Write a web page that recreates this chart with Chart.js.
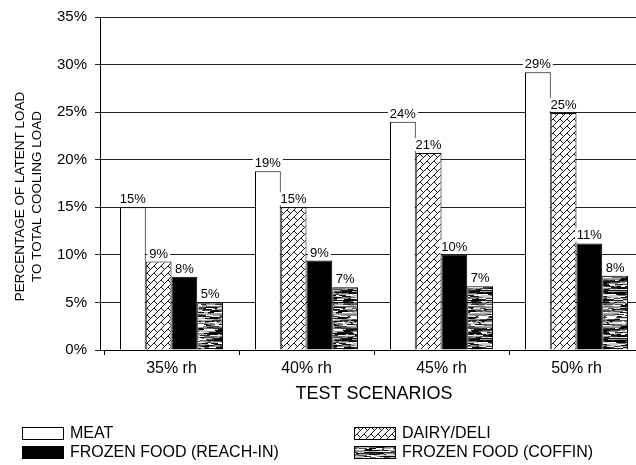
<!DOCTYPE html>
<html>
<head>
<meta charset="utf-8">
<style>
  html, body { margin: 0; padding: 0; background: #fff; overflow: hidden; width: 636px; height: 465px; }
  canvas { display: block; }
</style>
<script src="https://cdn.jsdelivr.net/npm/chart.js@4.4.1/dist/chart.umd.min.js"></script>
</head>
<body>
<canvas id="chart" width="644" height="465"></canvas>
<script>
// Test scenarios (relative humidity) and latent-load share per display case type, in %
const categories = ['35% rh', '40% rh', '45% rh', '50% rh'];
const meat = [15.0, 18.8, 24.0, 29.2];
const dairyDeli = [9.3, 15.0, 20.7, 24.9];
const frozenReachIn = [7.7, 9.4, 10.0, 11.2];
const frozenCoffin = [5.0, 6.6, 6.7, 7.8];
const seriesNames = ['MEAT', 'DAIRY/DELI', 'FROZEN FOOD (REACH-IN)', 'FROZEN FOOD (COFFIN)'];
const yTickValues = [0, 5, 10, 15, 20, 25, 30, 35];
const yTitleLines = ['PERCENTAGE OF LATENT LOAD', 'TO TOTAL COOLING LOAD'];

const FONT = '"Liberation Sans", Arial, Helvetica, sans-serif';

// Diagonal brick hatch used for the dairy/deli bars
function makeHatch() {
  const T = 14, s = 7;
  const c = document.createElement('canvas');
  c.width = c.height = T;
  const g = c.getContext('2d');
  g.fillStyle = '#fff';
  g.fillRect(0, 0, T, T);
  g.strokeStyle = '#000';
  g.lineWidth = 0.9;
  g.beginPath();
  for (let k = -4; k <= 8; k++) {
    const cc = k * s;
    g.moveTo(cc + T, -T);
    g.lineTo(cc - 2 * T, 2 * T);
    const par = ((k % 2) + 2) % 2;
    for (let m = -4; m <= 4; m++) {
      const d = m * T + par * s;
      g.moveTo((cc + d) / 2, (cc - d) / 2);
      g.lineTo((cc + s + d) / 2, (cc + s - d) / 2);
    }
  }
  g.stroke();
  return g.createPattern(c, 'repeat');
}

// Streaky grey texture used for the coffin-case bars (seeded, so it draws the same every time)
function makeStreaks() {
  const W = 64, H = 48;
  const c = document.createElement('canvas');
  c.width = W; c.height = H;
  const g = c.getContext('2d');
  let seed = 987654;
  const next = () => { seed = (seed * 1103515245 + 12345) & 0x7fffffff; return seed / 0x7fffffff; };
  const tones = [0, 0, 20, 50, 80, 110, 140, 170, 200, 230, 255, 255];
  g.fillStyle = '#000';
  g.fillRect(0, 0, W, H);
  for (let y = 0; y < H; y++) {
    let x = 0;
    while (x < W) {
      const len = 2 + Math.floor(next() * 9);
      const t = tones[Math.floor(next() * tones.length)];
      g.fillStyle = `rgb(${t},${t},${t})`;
      g.fillRect(x, y, Math.min(len, W - x), 1);
      x += len;
    }
  }
  return g.createPattern(c, 'repeat');
}

const ctx = document.getElementById('chart').getContext('2d');
const fills = ['#ffffff', makeHatch(), '#000000', makeStreaks()];

// The value axis line sits a few pixels left of the first category
const AXIS_GAP = 4;

const axisLinePlugin = {
  id: 'axisLine',
  beforeDatasetsDraw(chart) {
    const { ctx, chartArea } = chart;
    const x = Math.round(chartArea.left - AXIS_GAP) + 0.5;
    ctx.save();
    ctx.strokeStyle = '#000';
    ctx.lineWidth = 1;
    ctx.beginPath();
    ctx.moveTo(x, chart.scales.y.getPixelForValue(35));
    ctx.lineTo(x, chart.scales.y.getPixelForValue(0) + 1);
    ctx.stroke();
    ctx.restore();
  }
};

// Two-line rotated title for the value axis
const yTitlePlugin = {
  id: 'yTitle',
  afterDraw(chart) {
    const { ctx, chartArea } = chart;
    const cy = (chartArea.top + chartArea.bottom) / 2 + 13;
    ctx.save();
    ctx.font = '13.5px ' + FONT;
    ctx.fillStyle = '#000';
    ctx.textAlign = 'center';
    ctx.textBaseline = 'middle';
    yTitleLines.forEach((line, i) => {
      ctx.save();
      ctx.translate(20 + i * 17, cy);
      ctx.rotate(-Math.PI / 2);
      ctx.fillText(line, 0, 0);
      ctx.restore();
    });
    ctx.restore();
  }
};

const valueLabelPlugin = {
  id: 'valueLabels',
  afterDatasetsDraw(chart) {
    const { ctx } = chart;
    ctx.save();
    ctx.font = '13px ' + FONT;
    ctx.textAlign = 'center';
    ctx.textBaseline = 'alphabetic';
    chart.data.datasets.forEach((ds, di) => {
      const meta = chart.getDatasetMeta(di);
      meta.data.forEach((bar, i) => {
        const text = Math.round(ds.data[i]) + '%';
        const w = ctx.measureText(text).width;
        const baseY = bar.y - 4;
        ctx.fillStyle = '#fff';
        ctx.fillRect(bar.x - w / 2 - 2, baseY - 11, w + 4, 13);
        ctx.fillStyle = '#000';
        ctx.fillText(text, bar.x, baseY);
      });
    });
    ctx.restore();
  }
};

const legendPlugin = {
  id: 'columnLegend',
  afterDraw(chart) {
    const { ctx } = chart;
    const spots = [[22, 433], [354, 433], [22, 452], [354, 452]];
    ctx.save();
    ctx.font = '16px ' + FONT;
    ctx.textBaseline = 'middle';
    ctx.textAlign = 'left';
    chart.data.datasets.forEach((ds, i) => {
      const [x, y] = spots[i];
      ctx.fillStyle = ds.backgroundColor;
      ctx.fillRect(x, y - 6, 42, 13);
      ctx.strokeStyle = '#000';
      ctx.lineWidth = 1;
      ctx.strokeRect(x + 0.5, y - 5.5, 41, 12);
      ctx.fillStyle = '#000';
      ctx.fillText(ds.label, x + 48, y + 1);
    });
    ctx.restore();
  }
};

new Chart(ctx, {
  type: 'bar',
  data: {
    labels: categories,
    datasets: [meat, dairyDeli, frozenReachIn, frozenCoffin].map((vals, i) => ({
      label: seriesNames[i],
      data: vals,
      backgroundColor: fills[i],
      borderColor: '#000',
      borderWidth: 1,
      categoryPercentage: 0.763,
      barPercentage: 1
    }))
  },
  options: {
    responsive: false,
    animation: false,
    devicePixelRatio: 1,
    layout: { padding: { top: 17, bottom: 58, left: 0, right: 0 } },
    plugins: { legend: { display: false }, tooltip: { enabled: false } },
    scales: {
      x: {
        grid: { display: true, offset: true, drawOnChartArea: false, drawTicks: true, tickLength: 5, color: '#000' },
        border: { display: true, color: '#000', width: 1 },
        ticks: { color: '#000', font: { family: FONT, size: 16 }, padding: 4 },
        title: { display: true, text: 'TEST SCENARIOS', color: '#000', font: { family: FONT, size: 18 }, padding: { top: 0, bottom: 2 } },
        afterFit(s) { s.height = 57; }
      },
      y: {
        min: 0,
        max: 35,
        afterBuildTicks(s) { s.ticks = yTickValues.map(v => ({ value: v })); },
        grid: { color: '#222', lineWidth: 1, drawTicks: true, tickLength: 9 },
        border: { display: false },
        ticks: { color: '#000', font: { family: FONT, size: 15 }, padding: 8, callback: v => v + '%' },
        title: { display: false },
        afterFit(s) { s.width = 104; }
      }
    }
  },
  plugins: [axisLinePlugin, valueLabelPlugin, yTitlePlugin, legendPlugin]
});
</script>
</body>
</html>
